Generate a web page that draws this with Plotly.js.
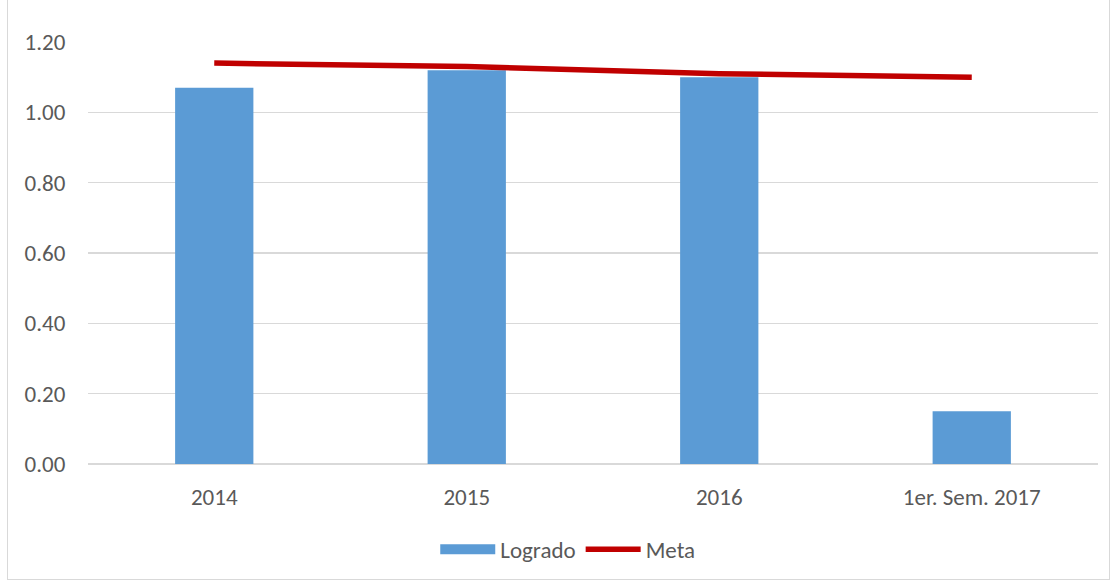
<!DOCTYPE html>
<html>
<head>
<meta charset="utf-8">
<script src="https://cdn.plot.ly/plotly-3.0.1.min.js"></script>
<style>
body{margin:0;padding:0;background:#fff;}
#wrap{position:relative;width:1112px;height:582px;}
#chart{position:absolute;left:0;top:0;width:1112px;height:582px;}
#frame{position:absolute;left:7px;top:-1px;width:1103px;height:581px;border:1px solid #d9d9d9;box-sizing:border-box;pointer-events:none;}
</style>
</head>
<body>
<div id="wrap"><div id="chart"></div><div id="frame"></div></div>
<script>
const categories = ['2014', '2015', '2016', '1er. Sem. 2017'];
const logrado = [1.07, 1.12, 1.10, 0.15];
const meta = [1.14, 1.13, 1.11, 1.10];
const yTicks = [0, 0.2, 0.4, 0.6, 0.8, 1.0, 1.2];

const font = {family: 'Carlito, Calibri, "Liberation Sans", sans-serif', size: 23, color: '#595959'};

const traces = [
  // legend swatch for the bars (wide rectangle as in the reference)
  {type: 'scatter', mode: 'lines', name: 'Logrado', x: [null], y: [null],
   line: {color: '#5B9BD5', width: 14}, hoverinfo: 'skip'},
  {type: 'bar', name: 'Logrado', x: categories, y: logrado, showlegend: false,
   marker: {color: '#5B9BD5'}},
  {type: 'scatter', mode: 'lines', name: 'Meta', x: categories, y: meta,
   line: {color: '#C00000', width: 5.5}}
];

const layout = {
  width: 1112, height: 582,
  margin: {l: 88, r: 14, t: 42, b: 117},
  paper_bgcolor: '#fff', plot_bgcolor: '#fff',
  font: font,
  bargap: 0.69,
  showlegend: true,
  legend: {orientation: 'h', x: 0.475, xanchor: 'center', y: -0.199, yanchor: 'middle',
           font: font, itemwidth: 55, traceorder: 'normal'},
  xaxis: {type: 'category', showgrid: false, zeroline: false, showline: false,
          ticks: 'outside', ticklen: 12, tickcolor: 'rgba(0,0,0,0)', tickfont: font},
  yaxis: {range: [0, 1.2], tickvals: yTicks, tickformat: '.2f',
          showgrid: true, gridcolor: '#d9d9d9', gridwidth: 1.3,
          zeroline: true, zerolinecolor: '#d9d9d9', zerolinewidth: 1.3,
          showline: false, ticks: 'outside', ticklen: 17, tickcolor: 'rgba(0,0,0,0)',
          tickfont: font}
};

Plotly.newPlot('chart', traces, layout, {displayModeBar: false, staticPlot: true});
</script>
</body>
</html>
